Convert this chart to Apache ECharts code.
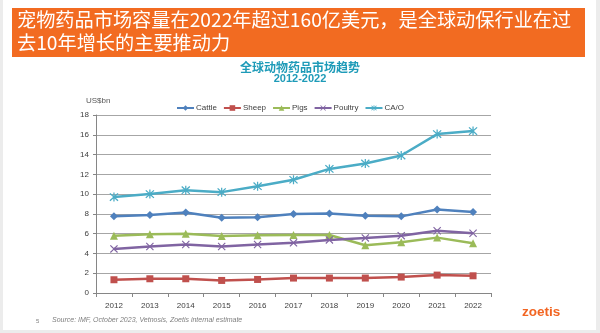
<!DOCTYPE html>
<html>
<head>
<meta charset="utf-8">
<script src="https://cdn.jsdelivr.net/npm/echarts@6/dist/echarts.min.js"></script>
<style>
  html, body { margin: 0; padding: 0; background: #ececec; }
  #chart { width: 600px; height: 333px; }
</style>
</head>
<body>
<div id="chart"></div>
<script>
// Global animal health market, US$bn, 2012-2022
const years = ['2012', '2013', '2014', '2015', '2016', '2017', '2018', '2019', '2020', '2021', '2022'];
const cattle  = [7.75, 7.88, 8.15, 7.6, 7.65, 7.98, 8.05, 7.82, 7.75, 8.45, 8.2];
const sheep   = [1.34, 1.44, 1.44, 1.27, 1.37, 1.51, 1.51, 1.51, 1.61, 1.81, 1.74];
const pigs    = [5.8, 5.94, 6.0, 5.77, 5.84, 5.87, 5.87, 4.83, 5.13, 5.6, 5.03];
const poultry = [4.46, 4.7, 4.9, 4.7, 4.9, 5.07, 5.37, 5.57, 5.8, 6.3, 6.04];
const cao     = [9.7, 10.0, 10.4, 10.2, 10.8, 11.45, 12.55, 13.1, 13.9, 16.07, 16.37];
const seriesNames = ['Cattle', 'Sheep', 'Pigs', 'Poultry', 'CA/O'];
const yTicks = [0, 2, 4, 6, 8, 10, 12, 14, 16, 18];

const headline1 = '宠物药品市场容量在2022年超过160亿美元，是全球动保行业在过';
const headline2 = '去10年增长的主要推动力';
const chartTitle = '全球动物药品市场趋势';
const chartSubtitle = '2012-2022';
const unitLabel = 'US$bn';
const sourceNote = 'Source: IMF, October 2023, Vetnosis, Zoetis internal estimate';
const pageNo = '5';
const brand = 'zoetis';

const colors = ['#4F81BD', '#C0504D', '#9BBB59', '#8064A2', '#4BACC6'];
const crossPath = 'path://M0,1L1,0L5,4L9,0L10,1L6,5L10,9L9,10L5,6L1,10L0,9L4,5Z';
const starPath = 'path://M0,1L1,0L5,4L9,0L10,1L6,5L10,9L9,10L5,6L1,10L0,9L4,5ZM4.3,-0.5H5.7V10.5H4.3Z';
const symbols = ['diamond', 'rect', 'triangle', crossPath, starPath];
const symbolSizes = [8, 7, 8, 8, 9];
const values = [cattle, sheep, pigs, poultry, cao];

const chart = echarts.init(document.getElementById('chart'));
const cjk = '"Noto Sans CJK SC", sans-serif';
const latin = '"Liberation Sans", Arial, sans-serif';

chart.setOption({
  animation: false,
  backgroundColor: '#ececec',
  graphic: [
    { type: 'rect', z: -10, shape: { x: 3, y: 0, width: 593, height: 330 }, style: { fill: '#ffffff' } },
    { type: 'rect', z: -5, shape: { x: 12, y: 8, width: 573, height: 49 }, style: { fill: '#F26B21' } },
    { type: 'text', left: 17, top: 10, style: { text: headline1, fill: '#ffffff', font: 'normal 19.2px ' + cjk } },
    { type: 'text', left: 17, top: 33, style: { text: headline2, fill: '#ffffff', font: 'normal 19.2px ' + cjk } },
    { type: 'text', left: 'center', top: 61, style: { text: chartTitle, fill: '#1E9BB8', font: 'bold 12px ' + cjk } },
    { type: 'text', left: 'center', top: 73, style: { text: chartSubtitle, fill: '#1E9BB8', font: 'bold 11px ' + latin } },
    { type: 'text', left: 86, top: 97, style: { text: unitLabel, fill: '#595959', font: '8px ' + latin } },
    { type: 'text', left: 36, top: 318, style: { text: pageNo, fill: '#7f7f7f', font: '6px ' + latin } },
    { type: 'text', left: 52, top: 317, style: { text: sourceNote, fill: '#7f7f7f', font: 'italic 7px ' + latin } },
    { type: 'text', left: 522, top: 305, style: { text: brand, fill: '#F26522', font: 'bold 13.5px ' + latin } }
  ],
  legend: {
    top: 99,
    left: 171,
    itemWidth: 17,
    itemHeight: 7,
    itemGap: 6,
    textStyle: { color: '#404040', fontSize: 8, fontFamily: latin, padding: [0, 0, 0, -3] },
    data: seriesNames
  },
  grid: { left: 96, right: 109, top: 115, bottom: 40 },
  xAxis: {
    type: 'category',
    data: years,
    boundaryGap: true,
    axisLine: { lineStyle: { color: '#868686' } },
    axisTick: { show: true, length: 4, lineStyle: { color: '#868686' } },
    axisLabel: { color: '#404040', fontSize: 8, fontFamily: latin, margin: 9 }
  },
  yAxis: {
    type: 'value',
    min: 0,
    max: 18,
    interval: 2,
    axisLine: { show: true, lineStyle: { color: '#868686' } },
    axisTick: { show: true, length: 3, lineStyle: { color: '#868686' } },
    axisLabel: { color: '#404040', fontSize: 8, fontFamily: latin, margin: 7,
      formatter: v => yTicks.includes(v) ? String(v) : '' },
    splitLine: { lineStyle: { color: '#a6a6a6', width: 1 } }
  },
  series: seriesNames.map((name, i) => ({
    name,
    type: 'line',
    data: values[i],
    color: colors[i],
    symbol: symbols[i],
    symbolSize: symbolSizes[i],
    showAllSymbol: true,
    lineStyle: { width: 2.5, color: colors[i] },
    itemStyle: { color: colors[i] }
  }))
});
</script>
</body>
</html>
